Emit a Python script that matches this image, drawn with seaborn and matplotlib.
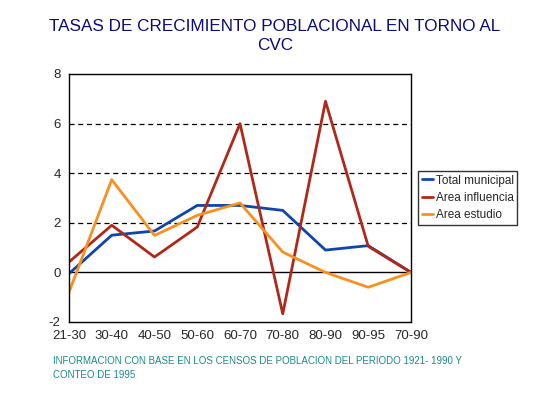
import matplotlib
matplotlib.use("Agg")
import matplotlib.pyplot as plt
import numpy as np
import pandas as pd
import seaborn as sns

# data
periods = ["21-30", "30-40", "40-50", "50-60", "60-70", "70-80", "80-90", "90-95", "70-90"]
total_municipal = [-0.05, 1.5, 1.67, 2.7, 2.7, 2.5, 0.9, 1.08, 0.0]
area_influencia = [0.42, 1.9, 0.62, 1.83, 6.0, -1.67, 6.9, 1.05, 0.0]
area_estudio = [-0.8, 3.74, 1.49, 2.3, 2.8, 0.82, 0.0, -0.6, 0.0]
series_names = ["Total municipal", "Area influencia", "Area estudio"]
colors = ["#0D46AC", "#B0281A", "#F7901E"]

df = pd.DataFrame({
    "periodo": periods * 3,
    "x": list(range(len(periods))) * 3,
    "tasa": total_municipal + area_influencia + area_estudio,
    "serie": [series_names[0]] * 9 + [series_names[1]] * 9 + [series_names[2]] * 9,
})

sns.set_style("white")
plt.rcParams['font.family'] = ['Liberation Sans', 'DejaVu Sans']
plt.rcParams['axes.unicode_minus'] = False

fig = plt.figure(figsize=(5.41, 3.97), dpi=100)
ax = fig.add_axes([69 / 541, 1 - 322 / 397, (411 - 69) / 541, (322 - 74) / 397])

sns.lineplot(data=df, x="x", y="tasa", hue="serie", palette=colors,
             hue_order=series_names, linewidth=2.0, ax=ax, legend=False)

ax.set_xlim(0, len(periods) - 1)
ax.set_ylim(-2, 8)
ax.set_xticks(range(len(periods)))
ax.set_xticklabels(periods)
ax.set_yticks([-2, 0, 2, 4, 6, 8])
ax.set_xlabel("")
ax.set_ylabel("")
for yv in [2, 4, 6]:
    ax.axhline(yv, color="black", linestyle=(0, (4, 3)), linewidth=0.9, zorder=0)
ax.axhline(0, color="black", linewidth=1.0, zorder=0)
for s in ax.spines.values():
    s.set_color("black")
    s.set_linewidth(1.0)
ax.tick_params(axis="both", direction="out", length=4, width=1, color="black",
               labelsize=9.5, pad=2)

fig.text(0.508, 1 - 36 / 397, "TASAS DE CRECIMIENTO POBLACIONAL EN TORNO AL\nCVC",
         ha="center", va="center", fontsize=12.3, color="#0A0A78", linespacing=1.3)

handles = [plt.Line2D([], [], color=c, linewidth=2) for c in colors]
leg = fig.legend(handles, series_names, loc="upper left",
                 bbox_to_anchor=(418 / 541, 1 - 171 / 397), frameon=True,
                 fontsize=8.5, handlelength=1.0, handletextpad=0.2,
                 borderpad=0.3, labelspacing=0.45, fancybox=False, borderaxespad=0)
leg.get_frame().set_edgecolor("black")
leg.get_frame().set_linewidth(1.0)

fig.text(53 / 541, 1 - 368 / 397,
         "INFORMACION CON BASE EN LOS CENSOS DE POBLACION DEL PERIODO 1921- 1990 Y\nCONTEO DE 1995",
         ha="left", va="center", fontsize=7.0, color="#1A8A8A", linespacing=1.6)

fig.savefig("out.png", dpi=100)
